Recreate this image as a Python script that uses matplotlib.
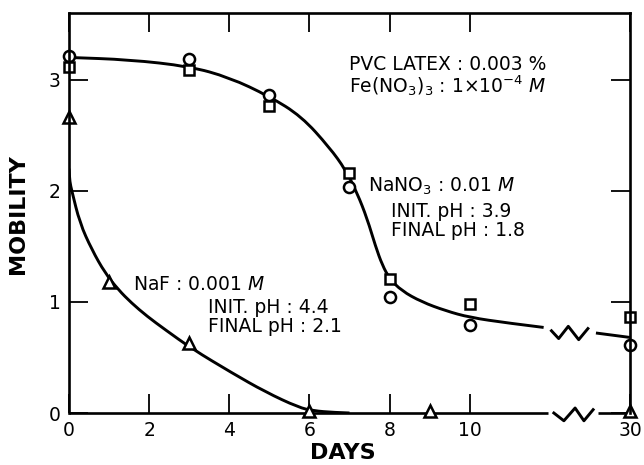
import numpy as np
import matplotlib
matplotlib.use("Agg")
import matplotlib.pyplot as plt
from matplotlib.path import Path
from matplotlib.patches import PathPatch

plt.rcParams['font.family'] = ['DejaVu Sans']
plt.rcParams['mathtext.fontset'] = 'dejavusans'

# ---- data (days, mobility) ----
circle_days = [0, 3, 5, 7, 8, 10, 30]
circle_mob = [3.21, 3.19, 2.86, 2.03, 1.04, 0.79, 0.61]
square_days = [0, 3, 5, 7, 8, 10, 30]
square_mob = [3.11, 3.09, 2.76, 2.16, 1.21, 0.98, 0.86]
tri_days = [0, 1, 3, 6, 9, 30]
tri_mob = [2.66, 1.18, 0.63, 0.02, 0.02, 0.02]

# fitted curves
nano3_curve_days = [0, 1.5, 3, 4, 5, 5.8, 6.5, 6.9, 7.19, 7.44, 7.65, 7.82, 8.0, 8.3, 8.8, 9.4, 10, 18.5, 26.6]
nano3_curve_mob = [3.20, 3.18, 3.12, 3.02, 2.85, 2.67, 2.39, 2.19, 1.98, 1.75, 1.50, 1.33, 1.21, 1.10, 1.00, 0.92, 0.86, 0.81, 0.77]
nano3_tail_days = [29.15, 30]
nano3_tail_mob = [0.72, 0.68]
naf_curve_days = [0, 0.02, 0.07, 0.27, 0.57, 0.9, 1.23, 1.56, 1.95, 2.4, 3.06, 4.07, 4.9, 5.73, 6.1, 6.6, 7.0]
naf_curve_mob = [2.2, 2.08, 2.0, 1.71, 1.47, 1.26, 1.11, 0.99, 0.87, 0.75, 0.58, 0.36, 0.19, 0.05, 0.02, 0.005, 0.0]

xtick_days = [0, 2, 4, 6, 8, 10, 30]
xtick_labels = ['0', '2', '4', '6', '8', '10', '30']
ytick_vals = [0, 1, 2, 3]


# broken x axis: 0-10 linear, 10..28 squeezed, 28..30 linear
def fwd(d):
    d = np.asarray(d, dtype=float)
    return np.where(d <= 10, d, np.where(d <= 28, 10 + (d - 10) / 9.0, d - 16))


def inv(p):
    p = np.asarray(p, dtype=float)
    return np.where(p <= 10, p, np.where(p <= 12, 10 + (p - 10) * 9.0, p + 16))


fig = plt.figure(figsize=(6.44, 4.65), dpi=100)
ax = fig.add_axes([69 / 644, 52 / 465, 561 / 644, 400 / 465])
ax.set_xscale('function', functions=(fwd, inv))
ax.set_xlim(0, 30)
ax.set_ylim(0, 3.6)


def smooth_patch(xs, ys, **kw):
    P = list(zip(xs, ys))
    verts = [P[0]]
    codes = [Path.MOVETO]
    if len(P) == 2:
        verts.append(P[1]); codes.append(Path.LINETO)
    else:
        m = ((P[0][0] + P[1][0]) / 2, (P[0][1] + P[1][1]) / 2)
        verts.append(m); codes.append(Path.LINETO)
        for i in range(1, len(P) - 1):
            if i < len(P) - 2:
                end = ((P[i][0] + P[i + 1][0]) / 2, (P[i][1] + P[i + 1][1]) / 2)
            else:
                end = P[i + 1]
            verts += [P[i], end]
            codes += [Path.CURVE3, Path.CURVE3]
    return PathPatch(Path(verts, codes), fill=False, transform=ax.transData, **kw)


lw = 2.1
ax.add_patch(smooth_patch(nano3_curve_days, nano3_curve_mob, lw=lw, color='black', zorder=2, capstyle='butt'))
ax.add_patch(smooth_patch(nano3_tail_days, nano3_tail_mob, lw=lw, color='black', zorder=2, clip_on=False))
ax.add_patch(smooth_patch(naf_curve_days, naf_curve_mob, lw=lw, color='black', zorder=2))

mk = dict(mfc='white', mec='black', mew=1.8, ls='none', zorder=4, clip_on=False)
ax.plot(circle_days, circle_mob, marker='o', ms=8, **mk)
ax.plot(square_days, square_mob, marker='s', ms=7, **mk)
ax.plot(tri_days, tri_mob, marker='^', ms=9, **mk)

# spines / break
for s in ['left', 'right', 'top']:
    ax.spines[s].set_linewidth(1.9)
    ax.spines[s].set_zorder(5)
ax.spines['bottom'].set_visible(False)
blw = 1.9
ax.plot(inv([0, 11.95]), [0, 0], color='black', lw=blw, clip_on=False, zorder=3, solid_capstyle='butt')
ax.plot(inv([13.2, 14]), [0, 0], color='black', lw=blw, clip_on=False, zorder=3, solid_capstyle='butt')
ax.plot(inv([12.1, 12.35, 12.63, 12.85, 13.08]), [0, -0.07, 0.045, -0.07, 0.03],
        color='black', lw=2.1, clip_on=False, zorder=3)
ax.plot(inv([12.04, 12.22, 12.46, 12.72, 12.95]), [0.74, 0.67, 0.78, 0.66, 0.76],
        color='black', lw=2.1, clip_on=False, zorder=3)

ax.set_xticks(xtick_days)
ax.set_xticklabels(xtick_labels)
ax.set_yticks(ytick_vals)
ax.set_yticklabels([str(v) for v in ytick_vals])
ax.minorticks_off()
ax.tick_params(axis='x', direction='in', length=14, width=1.3, top=True, bottom=True,
               labelsize=13.5, pad=6)
ax.tick_params(axis='y', direction='in', length=14, width=1.3, left=True, right=True,
               labelsize=13.5, pad=6)

fig.text(343 / 644, 1 - 453 / 465, 'DAYS', ha='center', va='center', fontsize=16, fontweight='bold')
fig.text(18 / 644, 1 - 214 / 465, 'MOBILITY', ha='center', va='center', rotation=90,
         fontsize=16, fontweight='bold')


def ftext(x, y, s, **kw):
    fig.text(x / 644, 1 - y / 465, s, ha='left', va='baseline', fontsize=13.5, **kw)


ftext(349, 70, 'PVC LATEX : 0.003 %')
ftext(349, 93, r'Fe(NO$_3$)$_3$ : 1$\times$10$^{-4}$ $\it{M}$')
ftext(368, 192, r'NaNO$_3$ : 0.01 $\it{M}$')
ftext(391, 217, 'INIT. pH : 3.9')
ftext(391, 236, 'FINAL pH : 1.8')
ftext(133, 290, r'NaF : 0.001 $\it{M}$')
ftext(208, 313, 'INIT. pH : 4.4')
ftext(208, 332, 'FINAL pH : 2.1')

fig.savefig('out.png', dpi=100)
